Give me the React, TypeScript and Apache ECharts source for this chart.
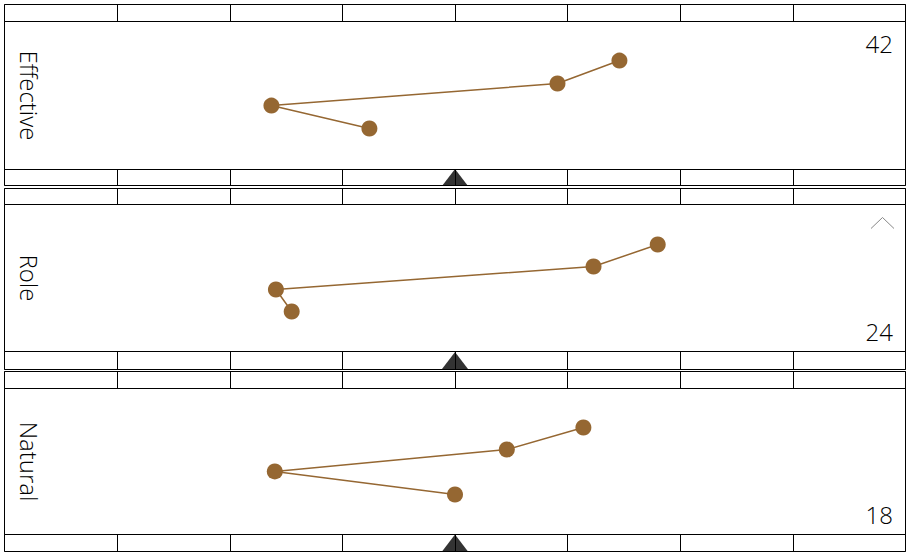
import React, { useEffect, useRef } from "react";
import * as echarts from "echarts";

// ---- data ----
const columnCount = 8;
const panelNames = ["Effective", "Role", "Natural"];
const panelScores = [42, 24, 18];
const scorePlacement = ["top", "bottom", "bottom"];
const markerPosition = 4;

const effectiveX = [3.24, 2.37, 4.91, 5.46];
const effectiveY = [27.7, 43.2, 58.1, 73.6];
const roleX = [2.55, 2.41, 5.23, 5.8];
const roleY = [27.2, 42.2, 57.8, 72.8];
const naturalX = [4.0, 2.4, 4.46, 5.14];
const naturalY = [27.4, 43.2, 58.2, 73.3];

const panelX = [effectiveX, roleX, naturalX];
const panelY = [effectiveY, roleY, naturalY];

// ---- layout (pixels) ----
const layouts = [
  { top: 4.5, main: 21.5, bottom: 169.5, end: 185.5 },
  { top: 188.5, main: 204.5, bottom: 351.5, end: 369.5 },
  { top: 371.5, main: 388.5, bottom: 534.5, end: 551.5 },
];
const LEFT = 4.5;
const RIGHT = 5.5;
const BROWN = "#956732";
const FONT = "'Open Sans', 'Noto Sans', sans-serif";

export default function App() {
  const ref = useRef<HTMLDivElement>(null);

  useEffect(() => {
    if (!ref.current) return;
    const chart = echarts.init(ref.current, undefined, { renderer: "svg" });

    const grids: any[] = [];
    const xAxes: any[] = [];
    const yAxes: any[] = [];
    const series: any[] = [];
    const graphics: any[] = [];

    const stripAxisX = (gi: number) => ({
      type: "value",
      gridIndex: gi,
      min: 0,
      max: columnCount,
      interval: 1,
      axisLine: { show: false },
      axisTick: { show: false },
      axisLabel: { show: false },
      splitLine: { show: true, lineStyle: { color: "#000", width: 1 } },
    });
    const hiddenY = (gi: number, max: number) => ({
      type: "value",
      gridIndex: gi,
      min: 0,
      max,
      show: false,
    });

    layouts.forEach((L, p) => {
      // top strip
      const gTop = grids.length;
      grids.push({
        left: LEFT, right: RIGHT, top: L.top, height: L.main - L.top,
        show: true, borderColor: "#000", borderWidth: 1,
      });
      xAxes.push(stripAxisX(gTop));
      yAxes.push(hiddenY(gTop, 1));

      // main
      const gMain = grids.length;
      grids.push({
        left: LEFT, right: RIGHT, top: L.main, height: L.bottom - L.main,
        show: true, borderColor: "#000", borderWidth: 1,
      });
      xAxes.push({ type: "value", gridIndex: gMain, min: 0, max: columnCount, show: false });
      yAxes.push(hiddenY(gMain, 100));
      series.push({
        type: "line",
        xAxisIndex: gMain,
        yAxisIndex: gMain,
        data: panelX[p].map((x, i) => [x, panelY[p][i]]),
        symbol: "circle",
        symbolSize: 16,
        lineStyle: { color: BROWN, width: 1.5 },
        itemStyle: { color: BROWN },
        z: 3,
      });

      // bottom strip
      const gBot = grids.length;
      grids.push({
        left: LEFT, right: RIGHT, top: L.bottom, height: L.end - L.bottom,
        show: true, borderColor: "#000", borderWidth: 1,
      });
      xAxes.push(stripAxisX(gBot));
      yAxes.push(hiddenY(gBot, 1));
      series.push({
        type: "scatter",
        xAxisIndex: gBot,
        yAxisIndex: gBot,
        data: [[markerPosition, 0.5]],
        symbol: "triangle",
        symbolSize: [26, 17],
        itemStyle: { color: "#000" },
        z: 4,
      });

      // panel name
      graphics.push({
        type: "text",
        x: 29,
        y: (L.main + L.bottom) / 2,
        rotation: -Math.PI / 2,
        style: {
          text: panelNames[p],
          fontSize: 24,
          fontFamily: FONT,
          fontWeight: 300,
          fill: "#000",
          align: "center",
          verticalAlign: "middle",
        },
      });
      // score
      graphics.push({
        type: "text",
        x: 893,
        y: scorePlacement[p] === "top" ? L.main + 22 : L.bottom - 20,
        style: {
          text: String(panelScores[p]),
          fontSize: 24,
          fontFamily: FONT,
          fontWeight: 300,
          fill: "#000",
          align: "right",
          verticalAlign: "middle",
        },
      });
      if (p === 1) {
        graphics.push({
          type: "polyline",
          shape: { points: [[871, L.main + 24], [882.5, L.main + 13], [894, L.main + 24]] },
          style: { stroke: "#888", lineWidth: 1, fill: "none" },
        });
      }
    });

    chart.setOption({
      animation: false,
      grid: grids,
      xAxis: xAxes,
      yAxis: yAxes,
      series,
      graphic: graphics,
    });

    return () => chart.dispose();
  }, []);

  return (
    <div
      ref={ref}
      style={{ position: "fixed", left: 0, top: 0, width: 911, height: 558, background: "#fff" }}
    />
  );
}
